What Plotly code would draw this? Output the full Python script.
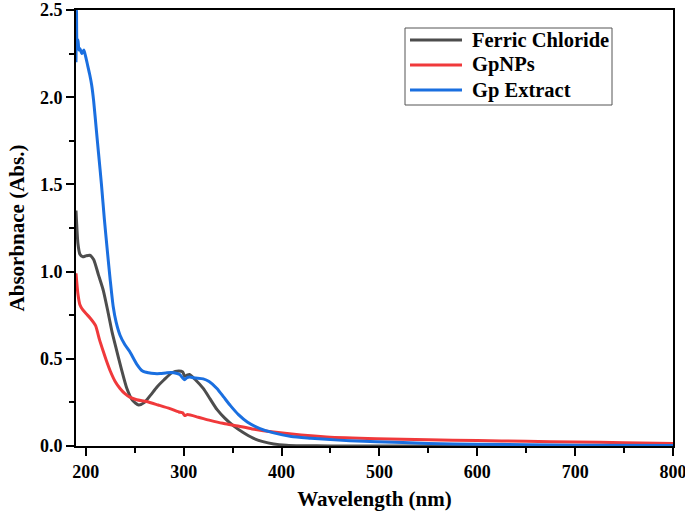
import plotly.graph_objects as go

# Ferric Chloride
fc_nm = [190, 192, 194, 197, 200, 204, 208, 213, 218, 223, 227, 231, 236, 242, 248, 254, 260, 266, 273, 280, 288, 295, 299, 301, 303, 306, 312, 320, 327, 334, 342, 351, 360, 371, 381, 392, 405, 420, 450, 500, 600, 700, 800]
fc_abs = [1.35, 1.16, 1.10, 1.085, 1.09, 1.094, 1.07, 0.98, 0.89, 0.76, 0.65, 0.56, 0.45, 0.33, 0.26, 0.235, 0.25, 0.29, 0.34, 0.38, 0.42, 0.43, 0.425, 0.40, 0.405, 0.41, 0.38, 0.33, 0.27, 0.21, 0.16, 0.115, 0.08, 0.045, 0.025, 0.012, 0.005, 0.002, 0.0, 0.0, 0.0, 0.0, 0.0]

# GpNPs
np_nm = [190, 192, 194, 197, 201, 205, 210, 214, 218, 221, 225, 230, 235, 240, 245, 252, 262, 274, 286, 295, 299, 301, 304, 315, 327, 340, 351, 370, 392, 420, 446, 497, 550, 600, 650, 700, 750, 800]
np_abs = [0.99, 0.87, 0.81, 0.78, 0.755, 0.73, 0.69, 0.61, 0.54, 0.49, 0.43, 0.37, 0.33, 0.30, 0.28, 0.265, 0.255, 0.235, 0.214, 0.195, 0.19, 0.175, 0.18, 0.165, 0.147, 0.13, 0.119, 0.098, 0.08, 0.063, 0.052, 0.042, 0.036, 0.031, 0.027, 0.023, 0.019, 0.015]

# Gp Extract
ex_nm = [190, 190.5, 191, 192, 193, 194, 196, 198, 200, 202, 204, 206, 208, 211, 213, 216, 219, 222, 225, 228, 231, 235, 240, 245, 252, 258, 264, 270, 276, 283, 290, 296, 299, 301, 303, 306, 312, 320, 326, 334, 341, 348, 356, 365, 378, 392, 410, 430, 446, 470, 497, 550, 600, 700, 800]
ex_abs = [2.2, 2.5, 2.3, 2.33, 2.27, 2.28, 2.25, 2.27, 2.23, 2.18, 2.13, 2.07, 1.98, 1.80, 1.68, 1.50, 1.30, 1.12, 0.95, 0.80, 0.71, 0.635, 0.58, 0.54, 0.47, 0.43, 0.42, 0.415, 0.415, 0.42, 0.42, 0.41, 0.39, 0.38, 0.39, 0.395, 0.39, 0.385, 0.37, 0.33, 0.28, 0.23, 0.18, 0.138, 0.1, 0.075, 0.055, 0.045, 0.038, 0.03, 0.025, 0.015, 0.01, 0.005, 0.003]

series_names = ["Ferric Chloride", "GpNPs", "Gp Extract"]
series_x = [fc_nm, np_nm, ex_nm]
series_y = [fc_abs, np_abs, ex_abs]
series_colors = ["#4d4d4d", "#f0393b", "#1a6fe0"]

FONT = "Liberation Serif"
W, H = 685, 511
ML, MR, MT, MB = 76, 12, 10, 65
PW, PH = W - ML - MR, H - MT - MB


def px2x(px):
    return (px - ML) / PW


def py2y(py):
    return (H - MB - py) / PH


fig = go.Figure()
for name, x, y, c in zip(series_names, series_x, series_y, series_colors):
    fig.add_trace(go.Scatter(x=x, y=y, name=name, mode="lines", showlegend=False,
                             line=dict(color=c, width=3, shape="spline", smoothing=0.6)))

axis_common = dict(
    showline=True, linecolor="black", linewidth=2, mirror=True,
    ticks="outside", tickcolor="black", tickwidth=2, ticklen=8,
    showgrid=False, zeroline=False, automargin=False,
    ticklabeloverflow="allow",
    tickfont=dict(family=FONT, size=18, color="black", weight="bold"),
)
minor_common = dict(ticks="outside", ticklen=5, tickwidth=2, tickcolor="black", showgrid=False)

fig.update_xaxes(range=[190, 800], tickvals=[200, 300, 400, 500, 600, 700, 800],
                 minor=dict(tickvals=[250, 350, 450, 550, 650, 750], **minor_common),
                 title=dict(text="Wavelength (nm)", font=dict(family=FONT, size=21, color="black", weight="bold"), standoff=14),
                 **axis_common)
fig.update_yaxes(range=[0, 2.5], tickvals=[0, 0.5, 1.0, 1.5, 2.0, 2.5], tickformat=".1f",
                 minor=dict(tickvals=[0.25, 0.75, 1.25, 1.75, 2.25], **minor_common),
                 title=dict(text="Absorbnace (Abs.)", font=dict(family=FONT, size=21, color="black", weight="bold"), standoff=10),
                 **axis_common)

# Legend box drawn in paper coordinates
shapes = [dict(type="rect", xref="paper", yref="paper",
               x0=px2x(405), x1=px2x(612), y0=py2y(105), y1=py2y(28),
               line=dict(color="#555555", width=1), fillcolor="white", layer="above")]
annotations = []
row_py = [40, 65, 90]
for name, c, ry in zip(series_names, series_colors, row_py):
    shapes.append(dict(type="line", xref="paper", yref="paper",
                       x0=px2x(410), x1=px2x(462), y0=py2y(ry), y1=py2y(ry),
                       line=dict(color=c, width=3), layer="above"))
    annotations.append(dict(xref="paper", yref="paper", x=px2x(470), y=py2y(ry),
                            xanchor="left", yanchor="middle", showarrow=False, text=name,
                            font=dict(family=FONT, size=20.5, color="black", weight="bold")))

fig.update_layout(
    width=W, height=H,
    margin=dict(l=ML, r=MR, t=MT, b=MB),
    plot_bgcolor="white", paper_bgcolor="white",
    showlegend=False,
    shapes=shapes, annotations=annotations,
)

fig.write_html("out.html", config={"displayModeBar": False},
               post_script="document.body.style.margin='0';")
